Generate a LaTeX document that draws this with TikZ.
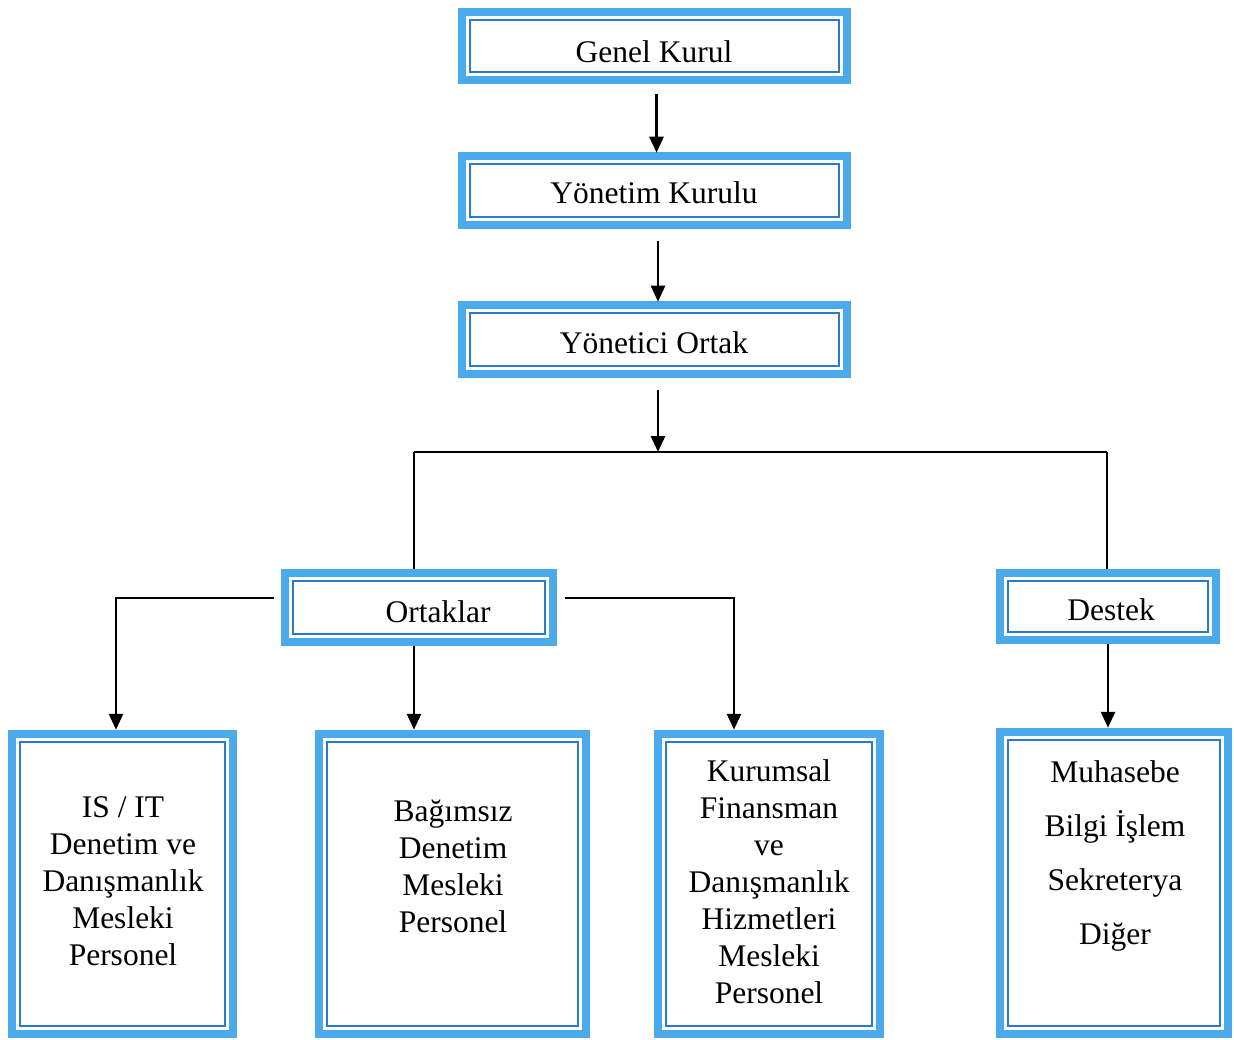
\documentclass[tikz,border=0pt]{standalone}
\usepackage{fontspec}
\setmainfont{Liberation Serif}
\usetikzlibrary{arrows.meta,calc}
\definecolor{thickblue}{RGB}{75,170,235}
\definecolor{thinblue}{RGB}{45,120,210}
\tikzset{
  orgbox/.style={draw=thickblue, line width=8.5pt, fill=white, inner sep=0pt,
    path picture={\draw[thinblue, line width=1.8pt]
      ([shift={(8.3pt,-8.3pt)}]path picture bounding box.north west) rectangle
      ([shift={(-8.3pt,8.3pt)}]path picture bounding box.south east);}},
  lbl/.style={font=\fontsize{31.5}{37}\selectfont, inner sep=0pt, align=center},
  conn/.style={line width=2.2pt, black},
  arr/.style={conn, line width=2.6pt, -{Triangle[length=16pt,width=14pt]}}
}
\begin{document}
\begin{tikzpicture}[x=1pt,y=-1pt]
\useasboundingbox (0,0) rectangle (1234,1040);
% boxes
\node[orgbox, minimum width=385, minimum height=68] (gk) at (654.5,46) {};
\node[orgbox, minimum width=385, minimum height=69] (yk) at (654.5,190.5) {};
\node[orgbox, minimum width=385, minimum height=69] (yo) at (654.5,339.5) {};
\node[orgbox, minimum width=268, minimum height=69] (ort) at (419,607.5) {};
\node[orgbox, minimum width=216, minimum height=67] (des) at (1108,606.5) {};
\node[orgbox, minimum width=221, minimum height=300] (isit) at (122.5,884) {};
\node[orgbox, minimum width=267, minimum height=300] (bag) at (452.5,884) {};
\node[orgbox, minimum width=222, minimum height=300] (kur) at (769,884) {};
\node[orgbox, minimum width=228, minimum height=302] (muh) at (1114,883) {};
% labels
\node[lbl, anchor=base] (gkt) at (654,63) {Genel Kurul};
\node[lbl, anchor=base] (ykt) at (654,204) {Yönetim Kurulu};
\node[lbl, anchor=base] (yot) at (654,354) {Yönetici Ortak};
\node[lbl, anchor=base] (ortt) at (438,622) {Ortaklar};
\node[lbl, anchor=base] (dest) at (1111,620) {Destek};
\node[lbl] (isitt) at (123,881) {IS / IT\\Denetim ve\\Danışmanlık\\Mesleki\\Personel};
\node[lbl] (bagt) at (453,866) {Bağımsız\\Denetim\\Mesleki\\Personel};
\node[lbl] (kurt) at (769,882) {Kurumsal\\Finansman\\ve\\Danışmanlık\\Hizmetleri\\Mesleki\\Personel};
\node[lbl, font=\fontsize{31.5}{54}\selectfont] (muht) at (1115,856) {Muhasebe\\Bilgi İşlem\\Sekreterya\\Diğer};
% connectors
\draw[arr] ([xshift=2pt,yshift=-10pt]gk.south) -- ([xshift=2pt,yshift=-1pt]yk.north);
\draw[arr] ([xshift=3.5pt,yshift=-12pt]yk.south) -- ([xshift=3.5pt,yshift=-1pt]yo.north);
\coordinate (J) at (658,452);
\coordinate (L) at (414,452);
\coordinate (R) at (1107,452);
\draw[arr] ([xshift=3.5pt,yshift=-12pt]yo.south) -- (J);
\draw[conn] (L) -- (R);
\draw[conn] (L) -- (L |- ort.north);
\draw[conn] (R) -- (R |- des.north);
\coordinate (oL) at (274,598);
\coordinate (oR) at (565,598);
\draw[arr] (oL) -| ([xshift=-6.5pt]isit.north);
\draw[arr] (L |- ort.south) -- (L |- bag.north);
\draw[arr] (oR) -| ([xshift=-35pt]kur.north);
\draw[arr] (des.south) -- (des.south |- muh.north);
\end{tikzpicture}
\end{document}
